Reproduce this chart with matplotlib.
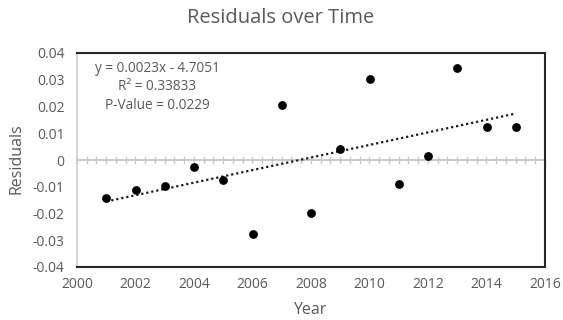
import numpy as np
import matplotlib
matplotlib.use("Agg")
import matplotlib.pyplot as plt

years = [2001, 2002, 2003, 2004, 2005, 2006, 2007, 2008, 2009, 2010, 2011, 2012, 2013, 2014, 2015]
residuals = [-0.0141, -0.0111, -0.0096, -0.0027, -0.0075, -0.0278, 0.0204, -0.0197,
             0.0041, 0.0303, -0.0090, 0.0015, 0.0345, 0.0123, 0.0123]
xticks = [2000, 2002, 2004, 2006, 2008, 2010, 2012, 2014, 2016]
yticks = [-0.04, -0.03, -0.02, -0.01, 0, 0.01, 0.02, 0.03, 0.04]
ytick_labels = ["-0.04", "-0.03", "-0.02", "-0.01", "0", "0.01", "0.02", "0.03", "0.04"]
title = "Residuals over Time"
eq_text = "y = 0.0023x - 4.7051\nR² = 0.33833\nP-Value = 0.0229"

plt.rcParams['font.family'] = ['Open Sans', 'DejaVu Sans']
gray_txt = '#595959'

fig = plt.figure(figsize=(5.63, 3.2), dpi=100)
ax = fig.add_axes([77/563, 1-267/320, (545-77)/563, (267-53)/320])

ax.scatter(years, residuals, s=40, color='black', zorder=4, linewidths=0)

# linear trendline from the data
coef = np.polyfit(years, residuals, 1)
xs = np.array([years[0], years[-1]])
ax.plot(xs, np.polyval(coef, xs), linestyle=(0, (1, 1.3)), color='#1a1a1a', lw=1.6, zorder=3)

# zero axis with crossing ticks
ax.axhline(0, color='#c8c8c8', lw=1.4, zorder=1)
minor = np.arange(2000, 2016 + 1e-9, 1/3)
for xv in minor:
    ax.plot([xv, xv], [-0.0012, 0.0012], color='#c8c8c8', lw=1.0, zorder=1, clip_on=False)

ax.set_xticks(xticks)
ax.set_yticks(yticks)
ax.set_yticklabels(ytick_labels)
ax.set_xlim(2000, 2016)
ax.set_ylim(-0.04, 0.04)

ax.tick_params(axis='both', length=0, labelsize=10, labelcolor=gray_txt)
ax.tick_params(axis='y', pad=9)
ax.tick_params(axis='x', pad=7)

for s in ['top', 'right', 'bottom']:
    ax.spines[s].set_color('#262626')
    ax.spines[s].set_linewidth(1.5)
ax.spines['left'].set_color('#d0d0d0')
ax.spines['left'].set_linewidth(1.2)

fig.text(157/563, 1-87/320, eq_text, ha='center', va='center',
         fontsize=9.8, color=gray_txt, linespacing=1.3)

fig.text(281/563, 1-18/320, title, ha='center', va='center', fontsize=14.5, color=gray_txt)
fig.text(310/563, 1-310/320, "Year", ha='center', va='center', fontsize=11.5, color=gray_txt)
fig.text(17/563, 1-159/320, "Residuals", ha='center', va='center', rotation=90,
         fontsize=11.5, color=gray_txt)

fig.savefig("out.png", dpi=100)
